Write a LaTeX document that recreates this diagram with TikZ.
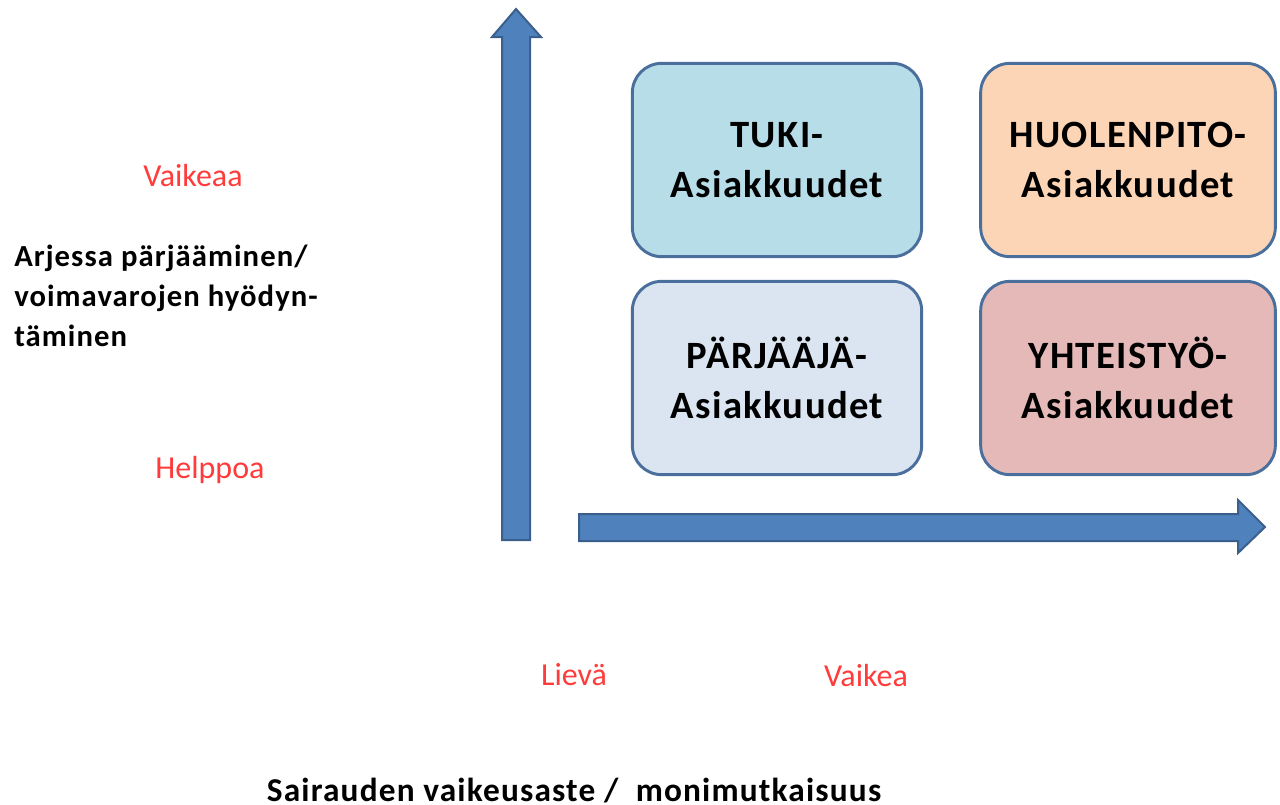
\documentclass[tikz,border=0pt]{standalone}
\usepackage{fontspec}
\setmainfont{Carlito}
\newfontfamily\widefont[LetterSpace=3.5]{Carlito}
\definecolor{arrowfill}{HTML}{4F81BD}
\definecolor{arrowline}{HTML}{3A5F8C}
\definecolor{tukifill}{HTML}{B7DDE8}
\definecolor{huolfill}{HTML}{FBD5B5}
\definecolor{parjfill}{HTML}{DBE5F1}
\definecolor{yhtfill}{HTML}{E5B9B7}
\definecolor{boxline}{HTML}{4A6F9C}
\definecolor{labelred}{HTML}{FF3B3B}
\tikzset{
  quad/.style={draw=boxline, line width=2.2pt, rounded corners=22pt,
    minimum width=217pt, minimum height=145pt, align=center,
    font=\widefont\fontsize{29}{37.5}\selectfont\bfseries, inner sep=0pt},
  redlabel/.style={text=labelred, font=\fontsize{24}{29}\selectfont, inner sep=0pt},
  axislabel/.style={font=\widefont\fontsize{23}{30}\selectfont\bfseries, inner sep=0pt},
  bigarrow/.style={fill=arrowfill, draw=arrowline, line width=1.5pt, line join=miter}
}
\begin{document}
\begin{tikzpicture}[x=0.75pt,y=-0.75pt]
\useasboundingbox (0,0) rectangle (1280,804);
% vertical axis arrow
\draw[bigarrow] (502,540) -- (502,37) -- (492,37) -- (516,9) -- (541,37) -- (530,37) -- (530,540) -- cycle;
% horizontal axis arrow
\draw[bigarrow] (579,514) -- (1238,514) -- (1238,500) -- (1265,527) -- (1238,553) -- (1238,541) -- (579,541) -- cycle;
% four quadrants
\node[quad, fill=tukifill] (tuki) at (777,160) {TUKI-\\Asiakkuudet};
\node[quad, fill=huolfill, minimum width=221pt] (huol) at (1128,160) {HUOLENPITO-\\Asiakkuudet};
\node[quad, fill=parjfill] (parj) at (777,378) {PÄRJÄÄJÄ-\\Asiakkuudet};
\node[quad, fill=yhtfill, minimum width=221pt] (yht) at (1128,378) {YHTEISTYÖ-\\Asiakkuudet};
% axis labels
\node[redlabel] (vaikeaa) at (193,176) {Vaikeaa};
\node[redlabel] (helppoa) at (210,470) {Helppoa};
\node[axislabel, anchor=north west, align=left] (arki) at (14,245) {Arjessa pärjääminen/\\voimavarojen hyödyn-\\täminen};
\node[redlabel] (lieva) at (574,675) {Lievä};
\node[redlabel] (vaikea) at (866,675) {Vaikea};
\node[axislabel, font=\widefont\fontsize{25}{30}\selectfont\bfseries, anchor=base] (sairaus) at (574,801) {Sairauden vaikeusaste /\ \ monimutkaisuus};
\end{tikzpicture}
\end{document}
